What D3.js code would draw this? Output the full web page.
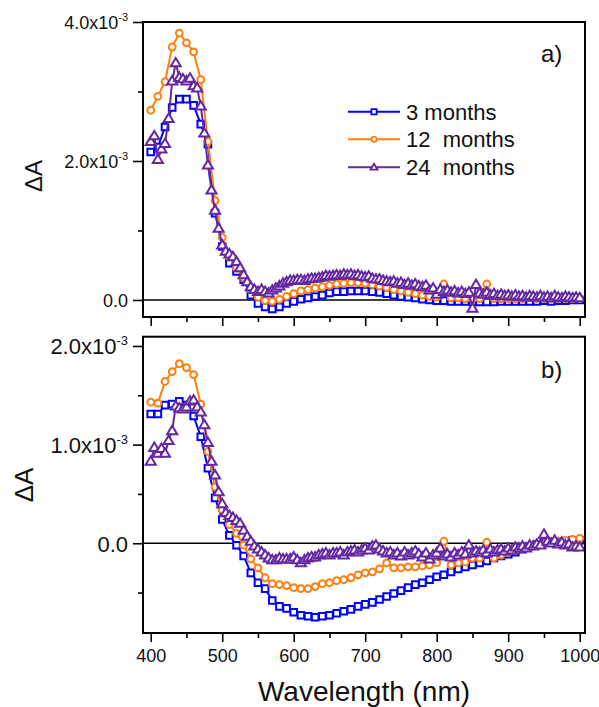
<!DOCTYPE html>
<html>
<head>
<meta charset="utf-8">
<script src="https://cdn.jsdelivr.net/npm/d3@7"></script>
<style>
  html, body { margin: 0; padding: 0; background: #ffffff; }
  svg { display: block; font-family: "Liberation Sans", Arial, sans-serif; }
</style>
</head>
<body>
<svg id="chart" width="599" height="707"></svg>
<script>
// ---------- data (ΔA in units of 1e-3) ----------
const wavelength10 = [400,410,420,430,440,450,460,470,480,490,500,510,520,530,540,550,560,570,580,590,
  600,610,620,630,640,650,660,670,680,690,700,710,720,730,740,750,760,770,780,790,
  800,810,820,830,840,850,860,870,880,890,900,910,920,930,940,950,960,970,980,990,1000];

const wavelength5 = [400,405,410,415,420,425,430,435,440,445,450,455,460,465,470,475,480,485,490,495,
  500,505,510,515,520,525,530,535,540,545,550,555,560,565,570,575,580,585,590,595,
  600,605,610,615,620,625,630,635,640,645,650,655,660,665,670,675,680,685,690,695,
  700,705,710,715,720,725,730,735,740,745,750,755,760,765,770,775,780,785,790,795,
  800,805,810,815,820,825,830,835,840,845,850,855,860,865,870,875,880,885,890,895,
  900,905,910,915,920,925,930,935,940,945,950,955,960,965,970,975,980,985,990,995,1000];

const seriesNames = ["3 months", "12  months", "24  months"];

// panel a)
const blueA = [2.13,2.20,2.49,2.77,2.89,2.89,2.80,2.53,2.24,1.25,0.77,0.53,0.41,0.29,0.07,-0.05,-0.10,-0.13,-0.10,-0.05,
  -0.02,0.01,0.03,0.05,0.07,0.10,0.12,0.12,0.13,0.13,0.13,0.12,0.11,0.09,0.07,0.05,0.04,0.03,0.01,0.00,
  -0.01,-0.01,-0.02,-0.02,-0.02,-0.03,-0.03,-0.03,-0.03,-0.02,-0.02,-0.02,-0.02,-0.02,-0.02,-0.01,-0.02,-0.01,-0.01,0.00,0.00];

const orangeA = [2.73,2.93,3.14,3.64,3.84,3.70,3.57,3.17,2.28,1.43,0.90,0.62,0.46,0.32,0.15,0.04,-0.01,-0.02,0.01,0.05,
  0.09,0.13,0.15,0.17,0.19,0.21,0.23,0.24,0.25,0.25,0.24,0.22,0.20,0.18,0.15,0.13,0.11,0.09,0.07,0.05,
  0.04,0.23,0.03,0.03,0.02,0.02,0.02,0.23,0.02,0.02,0.02,0.02,0.02,0.03,0.02,0.02,0.02,0.02,0.02,0.02,0.02];

const purpleA = [2.28,2.36,2.02,2.17,2.25,2.61,3.15,3.41,3.20,3.18,3.15,3.19,3.08,3.05,2.79,2.40,1.94,1.58,1.29,1.03,
  0.79,0.70,0.66,0.62,0.55,0.46,0.36,0.26,0.19,0.15,0.12,0.15,0.12,0.10,0.14,0.17,0.20,0.24,0.26,0.28,
  0.28,0.29,0.29,0.28,0.30,0.31,0.31,0.32,0.33,0.35,0.34,0.35,0.36,0.35,0.37,0.36,0.37,0.35,0.36,0.34,
  0.33,0.34,0.31,0.30,0.30,0.28,0.27,0.26,0.27,0.24,0.25,0.22,0.24,0.21,0.23,0.20,0.19,0.21,0.14,0.17,
  0.08,0.15,0.12,0.14,0.11,0.13,0.10,0.12,0.09,0.11,-0.12,0.22,0.10,0.08,0.11,0.07,0.09,0.06,0.08,0.06,
  0.07,0.05,0.07,0.05,0.06,0.04,0.06,0.05,0.04,0.06,0.04,0.05,0.03,0.06,0.04,0.03,0.05,0.04,0.03,0.04,0.03];

// panel b)
const blueB = [1.31,1.31,1.40,1.41,1.44,1.40,1.29,1.08,0.76,0.46,0.24,0.08,-0.02,-0.13,-0.30,-0.40,-0.46,-0.58,-0.64,-0.66,
  -0.70,-0.73,-0.74,-0.75,-0.74,-0.73,-0.71,-0.69,-0.67,-0.64,-0.62,-0.60,-0.57,-0.54,-0.51,-0.48,-0.45,-0.42,-0.40,-0.37,
  -0.34,-0.32,-0.29,-0.26,-0.24,-0.22,-0.20,-0.18,-0.15,-0.13,-0.11,-0.09,-0.06,-0.03,-0.01,0.02,0.01,0.02,0.02,0.03,0.03];

const orangeB = [1.43,1.42,1.64,1.74,1.82,1.78,1.71,1.41,0.93,0.57,0.34,0.19,0.10,-0.02,-0.16,-0.25,-0.35,-0.41,-0.42,-0.43,
  -0.45,-0.46,-0.46,-0.44,-0.41,-0.40,-0.38,-0.37,-0.35,-0.32,-0.30,-0.29,-0.26,-0.20,-0.25,-0.25,-0.24,-0.24,-0.23,-0.22,
  -0.20,0.02,-0.22,-0.20,-0.19,-0.15,-0.15,0.01,-0.15,-0.12,-0.09,-0.07,-0.05,-0.03,-0.01,0.00,0.01,0.02,0.03,0.04,0.05];

const purpleB = [0.83,0.97,0.91,0.96,0.91,1.04,1.14,1.39,1.37,1.36,1.38,1.44,1.45,1.38,1.33,1.20,1.02,0.83,0.69,0.52,
  0.40,0.31,0.28,0.26,0.23,0.20,0.13,0.07,0.02,-0.03,-0.06,-0.09,-0.12,-0.15,-0.17,-0.17,-0.15,-0.16,-0.16,-0.16,
  -0.14,-0.17,-0.20,-0.17,-0.15,-0.14,-0.14,-0.12,-0.11,-0.10,-0.12,-0.10,-0.10,-0.09,-0.12,-0.09,-0.08,-0.07,-0.09,-0.07,
  -0.05,-0.07,-0.03,-0.02,-0.06,-0.08,-0.10,-0.09,-0.12,-0.10,-0.13,-0.09,-0.12,-0.10,-0.08,-0.11,-0.14,-0.10,-0.16,-0.12,
  -0.10,-0.05,-0.13,-0.11,-0.14,-0.10,-0.12,-0.09,-0.11,-0.02,-0.10,-0.08,-0.09,-0.07,-0.10,-0.06,-0.09,-0.07,-0.06,-0.08,
  -0.05,-0.07,-0.04,-0.05,-0.03,-0.05,-0.02,-0.03,-0.01,-0.02,0.09,0.02,0.00,0.03,-0.01,0.01,-0.02,-0.01,-0.04,-0.03,-0.04];

// axis ticks
const xMajorTicks = [400,500,600,700,800,900,1000];
const xMinorTicks = [450,550,650,750,850,950];
const yTicksA = [0, 2, 4];
const yMinorA = [1, 3];
const yTickTextA = ["0.0", "2.0x10", "4.0x10"];
const yTickExpA = ["", "-3", "-3"];
const yTicksB = [0, 1, 2];
const yMinorB = [-0.5, 0.5, 1.5];
const yTickTextB = ["0.0", "1.0x10", "2.0x10"];
const yTickExpB = ["", "-3", "-3"];

// ---------- styling ----------
const colors = { blue: "#0000ff", orange: "#ff8010", purple: "#6428a2" };
const FONT = '"Liberation Sans", Arial, sans-serif';

const svg = d3.select("#chart");
const plotLeft = 143, plotRight = 585;
const x = d3.scaleLinear().domain([389.2, 1007.4]).range([plotLeft, plotRight]);

// marker shapes
function markerPath(shape, s) {
  if (shape === "square") return `M${-s},${-s}H${s}V${s}H${-s}Z`;
  if (shape === "circle") return `M${s},0A${s},${s} 0 1,1 ${-s},0A${s},${s} 0 1,1 ${s},0Z`;
  // triangle, centroid at origin
  const h = s * 1.75, w = s * 1.05;
  return `M0,${-h * 0.6}L${w},${h * 0.4}L${-w},${h * 0.4}Z`;
}

const panels = [
  {
    top: 22, bottom: 317, domain: [-0.245, 4.0],
    ticks: yTicksA, minor: yMinorA, text: yTickTextA, exp: yTickExpA,
    tickFont: 18, expFont: 11, expShift: 8,
    series: [
      { wl: wavelength10, v: blueA, color: colors.blue, shape: "square" },
      { wl: wavelength10, v: orangeA, color: colors.orange, shape: "circle" },
      { wl: wavelength5, v: purpleA, color: colors.purple, shape: "triangle" }
    ],
    tag: "a)", tagY: 62, titleX: 33, titleY: 176, titleSize: 24,
    xLabels: false, legend: true
  },
  {
    top: 336.7, bottom: 633, domain: [-0.91, 2.094],
    ticks: yTicksB, minor: yMinorB, text: yTickTextB, exp: yTickExpB,
    tickFont: 22, expFont: 13, expShift: 9,
    series: [
      { wl: wavelength10, v: blueB, color: colors.blue, shape: "square" },
      { wl: wavelength10, v: orangeB, color: colors.orange, shape: "circle" },
      { wl: wavelength5, v: purpleB, color: colors.purple, shape: "triangle" }
    ],
    tag: "b)", tagY: 378, titleX: 24, titleY: 485, titleSize: 26,
    xLabels: true, legend: false
  }
];

const markerSize = { square: 3.3, circle: 3.4, triangle: 4.8 };

panels.forEach(p => {
  const y = d3.scaleLinear().domain(p.domain).range([p.bottom, p.top]);
  const g = svg.append("g");

  const clipId = "clip" + p.tag.charAt(0);
  svg.append("clipPath").attr("id", clipId)
    .append("rect").attr("x", plotLeft).attr("y", p.top)
    .attr("width", plotRight - plotLeft).attr("height", p.bottom - p.top);

  // zero line
  g.append("line")
    .attr("x1", plotLeft).attr("x2", plotRight)
    .attr("y1", y(0)).attr("y2", y(0))
    .attr("stroke", "#000").attr("stroke-width", 1.6);

  const data = g.append("g").attr("clip-path", `url(#${clipId})`);
  p.series.forEach(s => {
    const pts = s.wl.map((w, i) => [w, s.v[i]]);
    data.append("path")
      .attr("d", d3.line().x(d => x(d[0])).y(d => y(d[1]))(pts))
      .attr("fill", "none").attr("stroke", s.color).attr("stroke-width", 2);
    data.selectAll(null).data(pts).enter().append("path")
      .attr("transform", d => `translate(${x(d[0])},${y(d[1])})`)
      .attr("d", markerPath(s.shape, markerSize[s.shape]))
      .attr("fill", "#fff").attr("stroke", s.color).attr("stroke-width", 2);
  });

  // frame
  g.append("rect")
    .attr("x", plotLeft).attr("y", p.top)
    .attr("width", plotRight - plotLeft).attr("height", p.bottom - p.top)
    .attr("fill", "none").attr("stroke", "#000").attr("stroke-width", 2);

  // x axis ticks
  const xAxis = g.append("g").attr("transform", `translate(0,${p.bottom})`)
    .call(d3.axisBottom(x).tickValues(xMajorTicks).tickSize(9).tickSizeOuter(0).tickPadding(5)
      .tickFormat(p.xLabels ? d3.format("d") : () => ""));
  g.append("g").attr("transform", `translate(0,${p.bottom})`)
    .call(d3.axisBottom(x).tickValues(xMinorTicks).tickSize(5).tickSizeOuter(0).tickFormat(() => ""))
    .call(a => a.select(".domain").remove())
    .selectAll("line").attr("stroke-width", 1.6);
  xAxis.select(".domain").remove();
  xAxis.selectAll("line").attr("stroke-width", 1.6);
  xAxis.selectAll("text").attr("font-size", 18).attr("font-family", FONT).attr("fill", "#111").attr("dy", "0.85em");

  // y axis ticks
  const yAxis = g.append("g").attr("transform", `translate(${plotLeft},0)`)
    .call(d3.axisLeft(y).tickValues(p.ticks).tickSize(10).tickSizeOuter(0).tickPadding(5).tickFormat(() => ""));
  yAxis.select(".domain").remove();
  yAxis.selectAll("line").attr("stroke-width", 1.6);
  yAxis.selectAll(".tick text").each(function (d, i) {
    const t = d3.select(this)
      .attr("font-size", p.tickFont).attr("font-family", FONT).attr("fill", "#111")
      .attr("dy", "0.36em");
    t.text(null);
    t.append("tspan").text(p.text[i]);
    if (p.exp[i]) {
      t.append("tspan").attr("font-size", p.expFont).attr("dy", -p.expShift).text(p.exp[i]);
    }
  });
  g.append("g").attr("transform", `translate(${plotLeft},0)`)
    .call(d3.axisLeft(y).tickValues(p.minor).tickSize(5).tickSizeOuter(0).tickFormat(() => ""))
    .call(a => a.select(".domain").remove())
    .selectAll("line").attr("stroke-width", 1.6);

  // y title
  svg.append("text")
    .attr("transform", `translate(${p.titleX},${p.titleY}) rotate(-90)`)
    .attr("text-anchor", "middle").attr("dominant-baseline", "central")
    .attr("font-size", p.titleSize).attr("fill", "#111")
    .text("ΔA");

  // panel tag
  svg.append("text")
    .attr("x", 541).attr("y", p.tagY)
    .attr("font-size", 24).attr("fill", "#111")
    .text(p.tag);

  // legend
  if (p.legend) {
    const rowsY = [111.7, 139.3, 167.3];
    const lg = svg.append("g");
    p.series.forEach((s, i) => {
      const row = lg.append("g").attr("transform", `translate(0,${rowsY[i]})`);
      row.append("line").attr("x1", 348).attr("x2", 400).attr("y1", 0).attr("y2", 0)
        .attr("stroke", s.color).attr("stroke-width", 2);
      row.append("path").attr("transform", "translate(374,0)")
        .attr("d", markerPath(s.shape, s.shape === "triangle" ? 3.4 : 2.6))
        .attr("fill", "#fff").attr("stroke", s.color).attr("stroke-width", 1.8);
      row.append("text").attr("x", 406).attr("y", 8)
        .attr("font-size", 22).attr("fill", "#111")
        .style("white-space", "pre")
        .text(seriesNames[i]);
    });
  }
});

// x title
svg.append("text")
  .attr("x", 364).attr("y", 701)
  .attr("text-anchor", "middle")
  .attr("font-size", 28).attr("fill", "#111")
  .text("Wavelength (nm)");
</script>
</body>
</html>
